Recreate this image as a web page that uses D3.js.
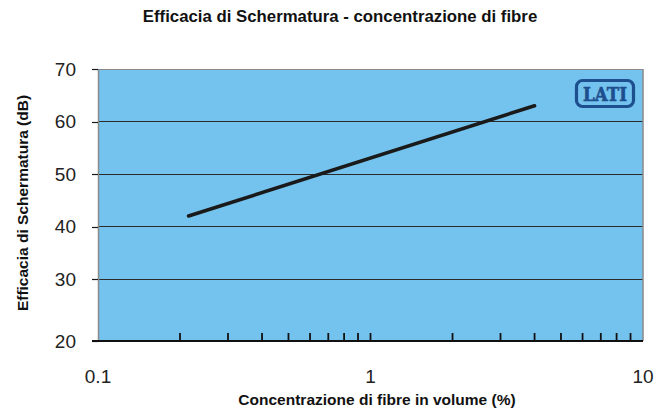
<!DOCTYPE html>
<html><head><meta charset="utf-8">
<script src="https://cdn.jsdelivr.net/npm/d3@7"></script>
<style>html,body{margin:0;padding:0;background:#fff;}svg{display:block;}</style>
</head><body>
<svg id="c" width="672" height="412"></svg>
<script>
const title = "Efficacia di Schermatura - concentrazione di fibre";
const xTitle = "Concentrazione di fibre in volume (%)";
const yTitle = "Efficacia di Schermatura (dB)";
const xLabelValues = [0.1, 1, 10];
const xLabelTexts = ["0.1", "1", "10"];
const xMinorTicks = [0.2,0.3,0.4,0.5,0.6,0.7,0.8,0.9,1,2,3,4,5,6,7,8,9];
const yTicks = [20, 30, 40, 50, 60, 70];
const lineX = [0.215, 4];
const lineY = [42, 63];

const svg = d3.select("#c");
const L = 98, R = 643, T = 69, B = 341;
const x = d3.scaleLog().domain([0.1, 10]).range([L, R]);
const y = d3.scaleLinear().domain([20, 30, 70]).range([B, 279, T]);
const FONT = "Liberation Sans, Arial, sans-serif";

svg.append("rect").attr("x", L).attr("y", T).attr("width", R - L).attr("height", B - T)
  .attr("fill", "#74C3EF");

// gridlines
svg.append("g").selectAll("line").data(yTicks.filter(d => d > 20 && d < 70)).join("line")
  .attr("x1", L).attr("x2", R).attr("y1", d => y(d)).attr("y2", d => y(d))
  .attr("stroke", "#2a2a2a").attr("stroke-width", 1).attr("shape-rendering", "crispEdges");

// frame
svg.append("line").attr("x1", L).attr("x2", R).attr("y1", T + 0.5).attr("y2", T + 0.5).attr("stroke", "#8a8a8a").attr("stroke-width", 1);
svg.append("line").attr("x1", L + 0.5).attr("x2", L + 0.5).attr("y1", T).attr("y2", B).attr("stroke", "#8a8a8a").attr("stroke-width", 1.5);
svg.append("line").attr("x1", R).attr("x2", R).attr("y1", T).attr("y2", B).attr("stroke", "#8a8a8a").attr("stroke-width", 1.5);

// y axis ticks & labels
const yg = svg.append("g");
yg.selectAll("line").data(yTicks).join("line")
  .attr("x1", 92).attr("x2", L).attr("y1", d => Math.round(y(d)) + 0.5).attr("y2", d => Math.round(y(d)) + 0.5)
  .attr("stroke", "#1a1a1a").attr("stroke-width", 1.2);
yg.selectAll("text").data(yTicks).join("text")
  .attr("x", 76).attr("y", d => y(d)).attr("dy", "0.36em").attr("text-anchor", "end")
  .attr("font-family", FONT).attr("font-size", 19).attr("fill", "#222")
  .text(d => d);

// x axis line
svg.append("line").attr("x1", 92).attr("x2", R).attr("y1", B).attr("y2", B)
  .attr("stroke", "#111").attr("stroke-width", 2.2);
// minor ticks inside
svg.append("g").selectAll("line").data(xMinorTicks).join("line")
  .attr("x1", d => x(d)).attr("x2", d => x(d)).attr("y1", B).attr("y2", B - 8)
  .attr("stroke", "#111").attr("stroke-width", 1.8);
svg.append("g").selectAll("text").data(xLabelValues).join("text")
  .attr("x", d => x(d)).attr("y", 383).attr("text-anchor", "middle")
  .attr("font-family", FONT).attr("font-size", 19).attr("fill", "#222")
  .text((d, i) => xLabelTexts[i]);

// data line
const pts = lineX.map((v, i) => [v, lineY[i]]);
svg.append("path").datum(pts)
  .attr("d", d3.line().x(d => x(d[0])).y(d => y(d[1])))
  .attr("fill", "none").attr("stroke", "#1a1a1a").attr("stroke-width", 3.6).attr("stroke-linecap", "round");

// titles
svg.append("text").attr("x", 340).attr("y", 22).attr("text-anchor", "middle")
  .attr("font-family", FONT).attr("font-weight", "bold").attr("font-size", 16.8).attr("fill", "#111")
  .text(title);
svg.append("text").attr("x", 377).attr("y", 405).attr("text-anchor", "middle")
  .attr("font-family", FONT).attr("font-weight", "bold").attr("font-size", 15.5).attr("fill", "#111")
  .text(xTitle);
svg.append("text").attr("transform", "translate(28,203) rotate(-90)").attr("text-anchor", "middle")
  .attr("font-family", FONT).attr("font-weight", "bold").attr("font-size", 15.5).attr("fill", "#111")
  .text(yTitle);

// logo
const lg = svg.append("g");
lg.append("rect").attr("x", 576.5).attr("y", 80.5).attr("width", 57).attr("height", 26).attr("rx", 6)
  .attr("fill", "none").attr("stroke", "#1D4E8E").attr("stroke-width", 3.2);
lg.append("text").attr("x", 605).attr("y", 101).attr("text-anchor", "middle")
  .attr("font-family", "DejaVu Serif, serif").attr("font-weight", "bold").attr("font-size", 18)
  .attr("textLength", 44).attr("lengthAdjust", "spacingAndGlyphs")
  .attr("stroke", "#1D4E8E").attr("stroke-width", 0.6)
  .attr("fill", "#1D4E8E").text("LATI");
</script>
</body></html>
